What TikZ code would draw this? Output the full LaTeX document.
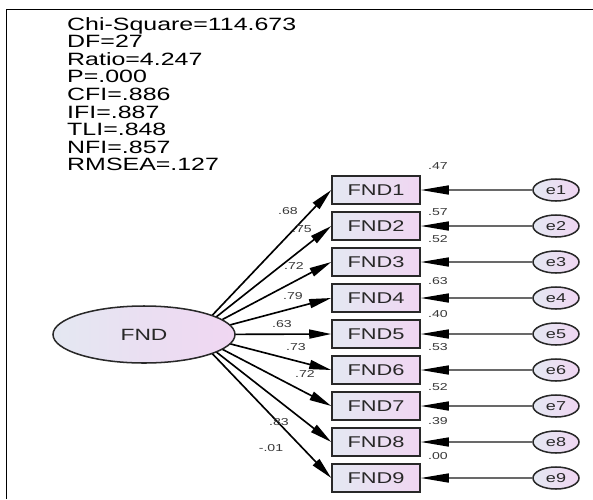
\documentclass[tikz,border=0pt]{standalone}
\usepackage{fontspec}
\usepackage{graphicx}
\newfontfamily\amosfont{Liberation Sans}
\newcommand{\wide}[1]{\scalebox{1.4}[1]{#1}}
\usetikzlibrary{arrows.meta,shapes.geometric,backgrounds}
\definecolor{fillleft}{RGB}{228,232,242}
\definecolor{fillright}{RGB}{240,214,242}
\definecolor{edge}{RGB}{40,40,40}
\definecolor{errline}{RGB}{105,105,105}
\definecolor{labtext}{RGB}{55,55,55}

\begin{document}
\begin{tikzpicture}[x=0.03cm,y=-0.03cm,
	  obs/.style={draw=edge,line width=1.3pt,left color=fillleft,right color=fillright,
	    minimum width=2.64cm,minimum height=0.84cm,inner sep=0pt,text=edge,
	    font=\amosfont\fontsize{13.3pt}{14pt}\selectfont},
	  lat/.style={ellipse,draw=edge,line width=1.3pt,left color=fillleft,right color=fillright,
	    minimum width=5.46cm,minimum height=1.71cm,inner sep=0pt,text=edge,
	    font=\amosfont\fontsize{13.9pt}{14pt}\selectfont},
	  errnode/.style={ellipse,draw=edge,line width=1.3pt,left color=fillleft,right color=fillright,
	    minimum width=1.38cm,minimum height=0.66cm,inner sep=0pt,text=edge,
	    font=\amosfont\fontsize{11pt}{12pt}\selectfont},
	  stat/.style={anchor=base west,inner sep=0pt,text=black,
	    font=\amosfont\fontsize{15.2pt}{15pt}\selectfont},
	  coef/.style={inner sep=0pt,text=labtext,font=\amosfont\fontsize{8.6pt}{9pt}\selectfont},
	  load/.style={line width=1.4pt,black,-{Triangle[length=0.66cm,width=0.27cm]}},
	  err/.style={line width=1.3pt,errline,-{Triangle[length=0.84cm,width=0.27cm,color=black]}}]
	  \useasboundingbox (0,0) rectangle (593,499);
	  % frame
	  \draw[line width=1.7pt] (6.5,499) -- (6.5,9.5) -- (593,9.5);
	  % fit indices
	  \node[stat] (chisq) at (67,30.0) {\wide{Chi-Square=114.673}};
	  \node[stat] (df) at (67,47.6) {\wide{DF=27}};
	  \node[stat] (ratio) at (67,65.2) {\wide{Ratio=4.247}};
	  \node[stat] (pval) at (67,82.8) {\wide{P=.000}};
	  \node[stat] (cfi) at (67,100.4) {\wide{CFI=.886}};
	  \node[stat] (ifi) at (67,118.0) {\wide{IFI=.887}};
	  \node[stat] (tli) at (67,135.6) {\wide{TLI=.848}};
	  \node[stat] (nfi) at (67,153.2) {\wide{NFI=.857}};
	  \node[stat] (rmsea) at (67,170.8) {\wide{RMSEA=.127}};
	  % latent factor
	  \node[lat] (fnd) at (144,334.5) {\wide{FND}};
	  \coordinate (hub) at (194,334.5);
	  % indicators
	  \node[obs] (fnd1) at (376,190) {\wide{FND1}};
	  \node[obs] (fnd2) at (376,226) {\wide{FND2}};
	  \node[obs] (fnd3) at (376,262) {\wide{FND3}};
	  \node[obs] (fnd4) at (376,298) {\wide{FND4}};
	  \node[obs] (fnd5) at (376,334) {\wide{FND5}};
	  \node[obs] (fnd6) at (376,370) {\wide{FND6}};
	  \node[obs] (fnd7) at (376,406) {\wide{FND7}};
	  \node[obs] (fnd8) at (376,442) {\wide{FND8}};
	  \node[obs] (fnd9) at (376,478) {\wide{FND9}};
	  % error terms
	  \node[errnode] (e1) at (556,190) {\wide{e1}};
	  \node[errnode] (e2) at (556,226) {\wide{e2}};
	  \node[errnode] (e3) at (556,262) {\wide{e3}};
	  \node[errnode] (e4) at (556,298) {\wide{e4}};
	  \node[errnode] (e5) at (556,334) {\wide{e5}};
	  \node[errnode] (e6) at (556,370) {\wide{e6}};
	  \node[errnode] (e7) at (556,406) {\wide{e7}};
	  \node[errnode] (e8) at (556,442) {\wide{e8}};
	  \node[errnode] (e9) at (556,478) {\wide{e9}};
	  % loadings
	  \node[coef] (l1) at (288,211) {\wide{.68}};
	  \node[coef] (l2) at (302,229) {\wide{.75}};
	  \node[coef] (l3) at (294,266) {\wide{.72}};
	  \node[coef] (l4) at (293,296) {\wide{.79}};
	  \node[coef] (l5) at (282,324) {\wide{.63}};
	  \node[coef] (l6) at (296,347) {\wide{.73}};
	  \node[coef] (l7) at (305,374) {\wide{.72}};
	  \node[coef] (l8) at (279,422) {\wide{.83}};
	  \node[coef] (l9) at (271,448) {\wide{-.01}};
	  % squared multiple correlations
	  \node[coef] (r1) at (438,166) {\wide{.47}};
	  \node[coef] (r2) at (438,212) {\wide{.57}};
	  \node[coef] (r3) at (438,239) {\wide{.52}};
	  \node[coef] (r4) at (438,281) {\wide{.63}};
	  \node[coef] (r5) at (438,314) {\wide{.40}};
	  \node[coef] (r6) at (438,347) {\wide{.53}};
	  \node[coef] (r7) at (438,387) {\wide{.52}};
	  \node[coef] (r8) at (438,421) {\wide{.39}};
	  \node[coef] (r9) at (438,456) {\wide{.00}};
	  \begin{scope}[on background layer]
	    \draw[load] (hub) -- (fnd1.west);
	    \draw[load] (hub) -- (fnd2.west);
	    \draw[load] (hub) -- (fnd3.west);
	    \draw[load] (hub) -- (fnd4.west);
	    \draw[load] (hub) -- (fnd5.west);
	    \draw[load] (hub) -- (fnd6.west);
	    \draw[load] (hub) -- (fnd7.west);
	    \draw[load] (hub) -- (fnd8.west);
	    \draw[load] (hub) -- (fnd9.west);
	  \end{scope}
	  \draw[err] (e1) -- (fnd1.east);
	  \draw[err] (e2) -- (fnd2.east);
	  \draw[err] (e3) -- (fnd3.east);
	  \draw[err] (e4) -- (fnd4.east);
	  \draw[err] (e5) -- (fnd5.east);
	  \draw[err] (e6) -- (fnd6.east);
	  \draw[err] (e7) -- (fnd7.east);
	  \draw[err] (e8) -- (fnd8.east);
	  \draw[err] (e9) -- (fnd9.east);
	\end{tikzpicture}
\end{document}
